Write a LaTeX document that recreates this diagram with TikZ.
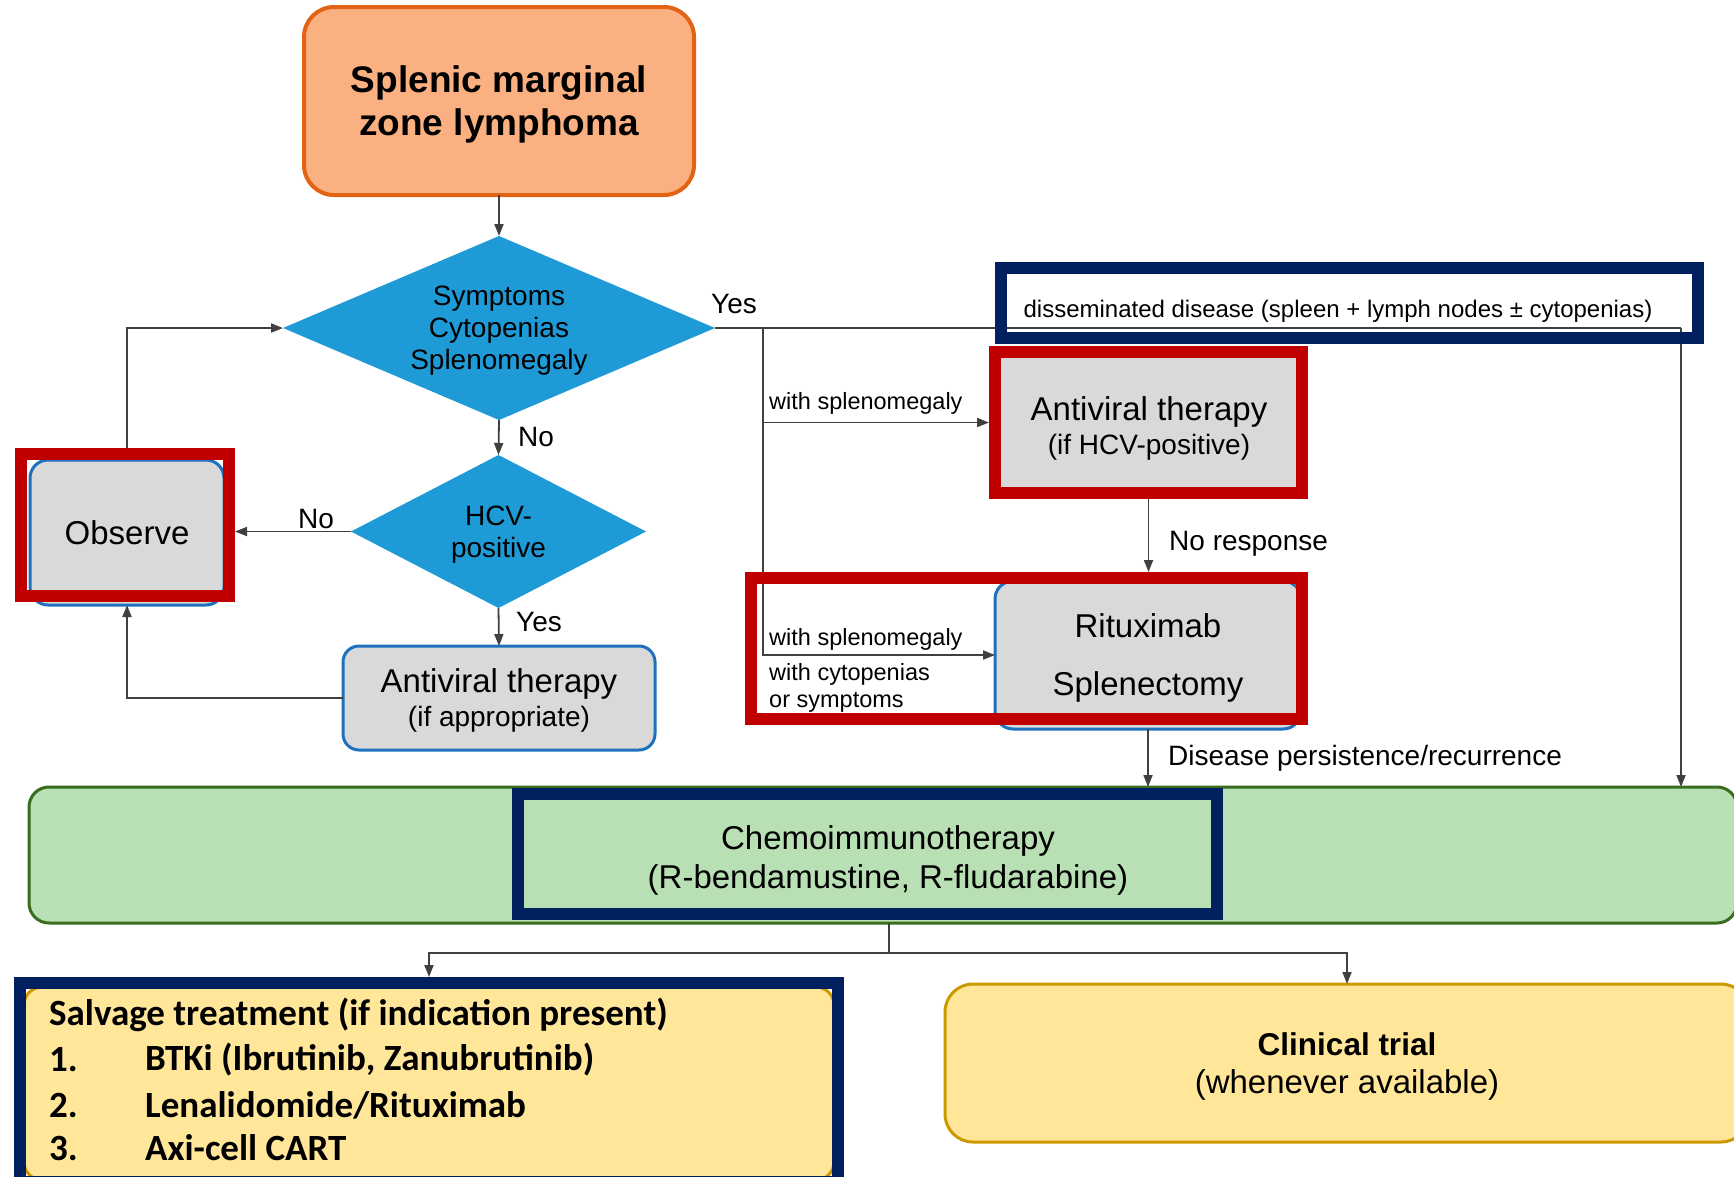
\documentclass[tikz,border=0pt]{standalone}
\usepackage{fontspec}
\setmainfont{Liberation Sans}
\newfontfamily\calib{Carlito}
\usetikzlibrary{shapes.geometric,arrows.meta,calc}
\definecolor{orangeF}{RGB}{250,176,128}
\definecolor{orangeB}{RGB}{227,99,20}
\definecolor{diaBlue}{RGB}{30,155,215}
\definecolor{grayF}{RGB}{217,217,217}
\definecolor{boxBlue}{RGB}{30,114,189}
\definecolor{redH}{RGB}{192,0,0}
\definecolor{navyH}{RGB}{0,32,96}
\definecolor{greenF}{RGB}{185,223,180}
\definecolor{greenB}{RGB}{56,110,30}
\definecolor{yelF}{RGB}{255,230,153}
\definecolor{goldB}{RGB}{204,153,0}
\definecolor{lineC}{RGB}{64,64,64}
\pgfdeclarelayer{hlayer}
\pgfsetlayers{main,hlayer}
\begin{document}
\begin{tikzpicture}[x=1pt,y=-1pt,
  conn/.style={draw=lineC, line width=1.8pt},
  arr/.style={conn, -{Triangle[length=12pt,width=9pt]}},
  graybox/.style={rectangle, draw=boxBlue, line width=3pt, fill=grayF, rounded corners=16pt, inner sep=0pt, outer sep=0pt, align=center, text depth=0pt, font=\fontsize{33}{34}\selectfont},
  dec/.style={diamond, fill=diaBlue, inner sep=0pt, outer sep=0pt, align=center, text depth=0pt, font=\fontsize{28}{32}\selectfont},
  hl/.style={rectangle, draw=#1, line width=12pt, inner sep=0pt},
  lbl/.style={inner sep=0pt, font=\fontsize{28}{32}\selectfont},
  sml/.style={inner sep=0pt, align=left, font=\fontsize{23.5}{27}\selectfont},
  sal/.style={inner sep=0pt, anchor=west, font=\calib\bfseries\fontsize{37}{45}\selectfont},
]
\path[use as bounding box, clip] (0,0) rectangle (1734,1176);
\fill[white] (0,0) rectangle (1734,1176);

% highlight frames (drawn on top layer)
\begin{pgfonlayer}{hlayer}
\node[hl=redH, minimum width=208pt, minimum height=142pt] (hlObs) at (125,525) {};
\node[hl=redH, minimum width=307pt, minimum height=141pt] (hlAv2) at (1148.5,422.5) {};
\node[hl=redH, minimum width=551pt, minimum height=141pt] (hlRit) at (1026.5,648.5) {};
\node[hl=navyH, minimum width=697pt, minimum height=70pt] (hlDis) at (1349.5,303) {};
\node[hl=navyH, minimum width=699pt, minimum height=120pt] (hlChe) at (867.5,854) {};
\node[hl=navyH, minimum width=818pt, minimum height=199pt] (hlSal) at (429,1082.5) {};
\end{pgfonlayer}

% main shapes
\node[rectangle, draw=orangeB, line width=4pt, fill=orangeF, rounded corners=30pt, inner sep=0pt, outer sep=0pt,
      minimum width=390pt, minimum height=188pt, align=center, text depth=0pt, font=\bfseries\fontsize{37}{43}\selectfont]
      (smzl) at (499,101) {Splenic marginal\\zone lymphoma};
\node[dec, aspect=2.35, minimum width=432pt, minimum height=184pt] (d1) at (499,328) {Symptoms\\Cytopenias\\Splenomegaly};
\node[dec, aspect=1.92, minimum width=295pt, minimum height=153pt] (d2) at (498.5,531.5) {HCV-\\positive};
\node[graybox, minimum width=194pt, minimum height=145pt, rounded corners=18pt] (obs) at (127,532.5) {Observe};
\node[graybox, minimum width=312pt, minimum height=104pt] (av1) at (499,698) {Antiviral therapy\\{\fontsize{28}{34}\selectfont (if appropriate)}};
\node[graybox, minimum width=300pt, minimum height=142pt, rounded corners=4pt] (av2) at (1149,426) {Antiviral therapy\\{\fontsize{28}{34}\selectfont (if HCV-positive)}};
\node[graybox, minimum width=306pt, minimum height=148pt, rounded corners=18pt, font=\fontsize{33}{58}\selectfont] (rit) at (1148,655) {Rituximab\\Splenectomy};
\node[rectangle, draw=greenB, line width=3pt, fill=greenF, rounded corners=20pt, inner sep=0pt, outer sep=0pt,
      minimum width=1708pt, minimum height=136pt] (green) at (883,855) {};
\node[inner sep=0pt, align=center, text depth=0pt, font=\fontsize{33}{39}\selectfont] (chemo) at (888,857) {Chemoimmunotherapy\\(R-bendamustine, R-fludarabine)};
\node[rectangle, draw=goldB, line width=3pt, fill=yelF, rounded corners=18pt, inner sep=0pt, outer sep=0pt,
      minimum width=810pt, minimum height=193pt] (salv) at (429,1083.5) {};
\node[rectangle, draw=goldB, line width=3pt, fill=yelF, rounded corners=28pt, inner sep=0pt, outer sep=0pt,
      minimum width=804pt, minimum height=158pt, align=center, text depth=0pt, font=\fontsize{33}{38}\selectfont]
      (clin) at (1347,1063) {{\bfseries\fontsize{31.5}{38}\selectfont Clinical trial}\\(whenever available)};

% connectors
\coordinate (rtop) at (1681,328);
\coordinate (br) at (763,328);
\coordinate (split) at (889,953);
\draw[arr] (smzl.south) -- (d1.north);
\draw[conn] (d1.east) -- (rtop);
\draw[arr] (rtop) -- (rtop |- green.north);
\draw[arr] (br) |- (hlAv2.west);
\draw[arr] (br) |- (rit.west);
\draw[arr] (hlAv2.south) -- (hlAv2.south |- hlRit.north);
\draw[arr] (rit.south) -- (rit.south |- green.north);
\draw[arr] (d1.south) -- (d2.north);
\draw[arr] (d2.west) -- (d2.west -| hlObs.east);
\draw[arr] (d2.south) -- (av1.north);
\draw[arr] (av1.west) -| (obs.south);
\draw[arr] (obs.north) |- (d1.west);
\draw[conn] (green.south -| split) -- (split);
\draw[arr] (split) -| (hlSal.north);
\draw[arr] (split) -| (clin.north);

% labels
\node[lbl] (yes1) at (734,304) {Yes};
\node[lbl, anchor=west] (no1) at (518,437) {No};
\node[lbl] (no2) at (316,519) {No};
\node[lbl, anchor=west] (yes2) at (516,622) {Yes};
\node[sml, anchor=west, text depth=0pt] (ws1) at (769,401) {with splenomegaly};
\node[sml, anchor=west, text depth=0pt] (ws2) at (769,637) {with splenomegaly};
\node[sml, anchor=west] (wc) at (769,688) {with cytopenias\\or symptoms};
\node[lbl, anchor=west, text depth=0pt] (nr) at (1169,541) {No response};
\node[lbl, anchor=west, text depth=0pt] (dp) at (1168,755) {Disease persistence/recurrence};
\node[inner sep=0pt, text depth=0pt, font=\fontsize{24}{28}\selectfont] (dis) at (1338,309) {disseminated disease (spleen + lymph nodes ± cytopenias)};

% salvage text
\node[sal] (s0) at (49,1015) {Salvage treatment (if indication present)};
\node[sal] (s1n) at (49,1060) {1.};
\node[sal] (s1) at (145,1060) {BTKi (Ibrutinib, Zanubrutinib)};
\node[sal] (s2n) at (49,1105) {2.};
\node[sal] (s2) at (145,1105) {Lenalidomide/Rituximab};
\node[sal] (s3n) at (49,1148) {3.};
\node[sal] (s3) at (145,1148) {Axi-cell CART};
\end{tikzpicture}
\end{document}
